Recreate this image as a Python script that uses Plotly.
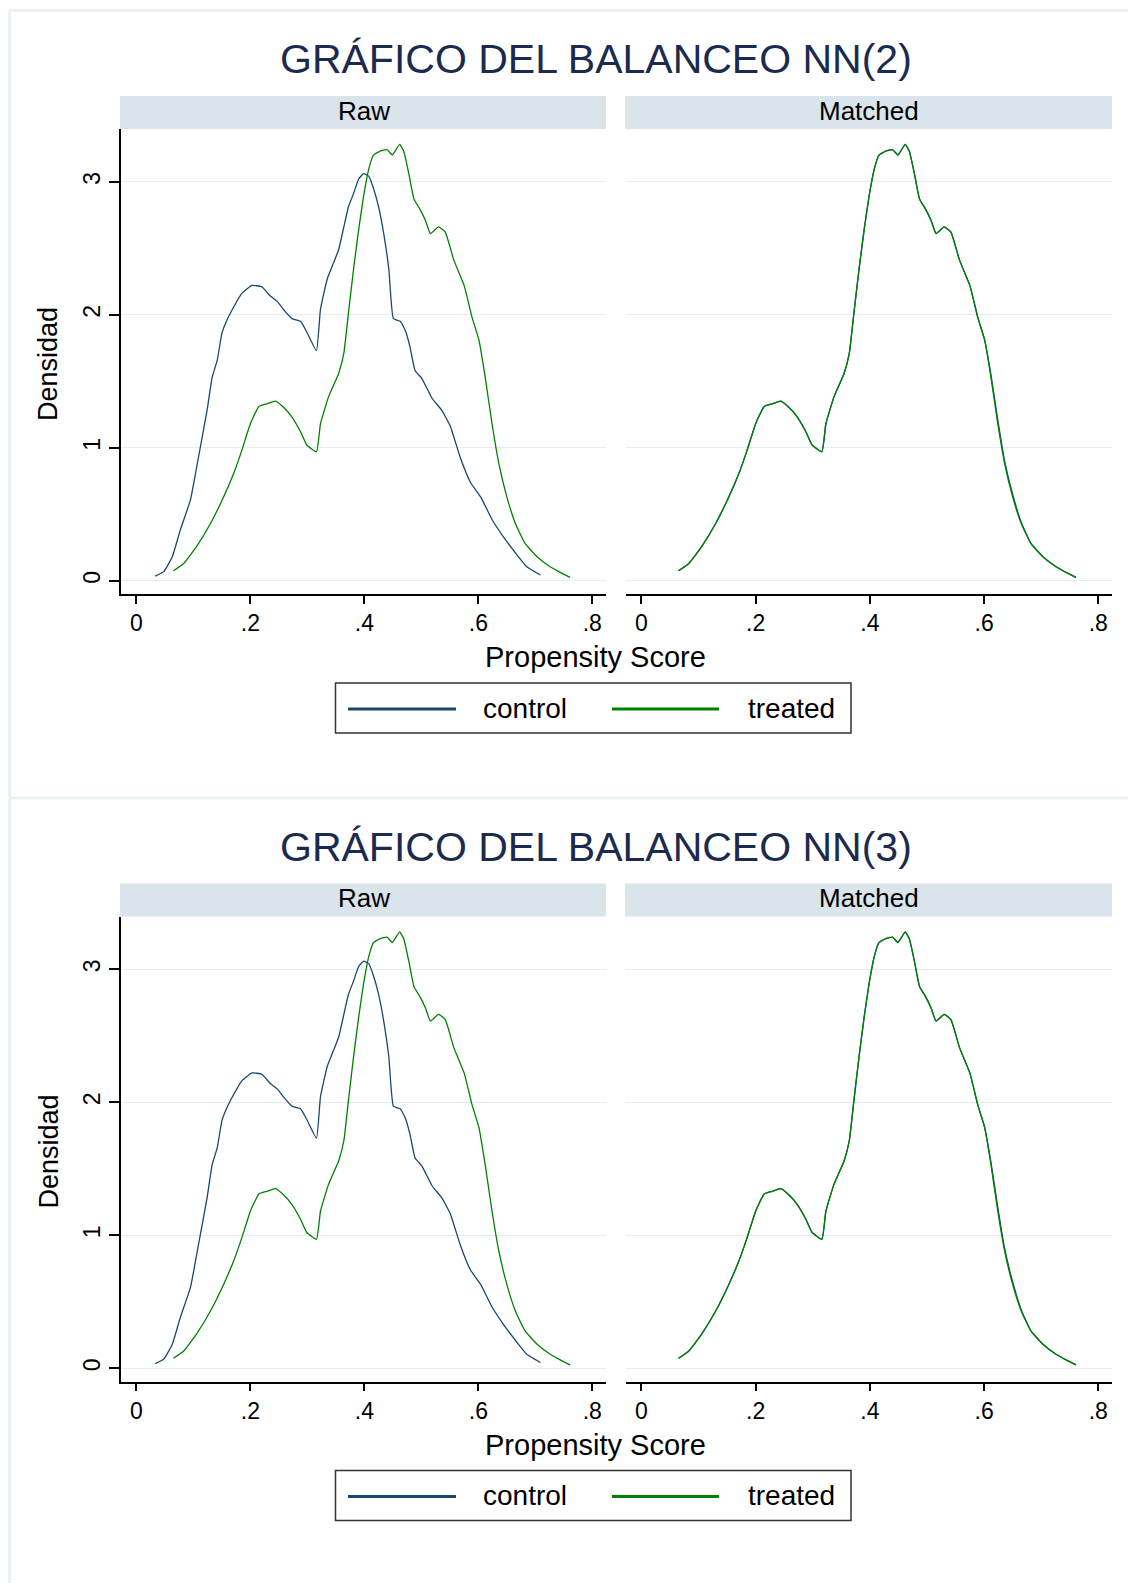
import plotly.graph_objects as go

# page body has an 8px margin, so the figure covers the window from (8, 8)
PAGE_MARGIN = 8
W, H = 1136 - PAGE_MARGIN, 1583 - PAGE_MARGIN

# ---------------- data ----------------
raw_control_x = [0.033, 0.048, 0.063, 0.077, 0.095, 0.109, 0.124, 0.133, 0.142, 0.150, 0.159, 0.171,
                 0.185, 0.203, 0.220, 0.235, 0.247, 0.258, 0.273, 0.288, 0.299, 0.316, 0.323, 0.335,
                 0.346, 0.355, 0.364, 0.372, 0.381, 0.390, 0.399, 0.408, 0.416, 0.425, 0.434, 0.443,
                 0.451, 0.463, 0.472, 0.480, 0.489, 0.501, 0.519, 0.536, 0.551, 0.568, 0.586, 0.604,
                 0.624, 0.644, 0.665, 0.685, 0.709]
raw_control_y = [0.035, 0.068, 0.18, 0.38, 0.61, 0.93, 1.28, 1.53, 1.66, 1.86, 1.96, 2.06,
                 2.16, 2.22, 2.21, 2.14, 2.10, 2.04, 1.97, 1.95, 1.87, 1.73, 2.04, 2.27,
                 2.39, 2.49, 2.66, 2.81, 2.91, 3.02, 3.06, 3.04, 2.95, 2.81, 2.61, 2.34,
                 1.97, 1.95, 1.88, 1.76, 1.58, 1.52, 1.37, 1.28, 1.16, 0.93, 0.74, 0.63,
                 0.46, 0.33, 0.21, 0.105, 0.043]

treated_x = [0.065, 0.083, 0.106, 0.130, 0.153, 0.171, 0.185, 0.200, 0.215, 0.229, 0.244, 0.259,
             0.273, 0.288, 0.299, 0.316, 0.323, 0.337, 0.355, 0.364, 0.372, 0.381, 0.390, 0.399,
             0.408, 0.416, 0.428, 0.440, 0.449, 0.454, 0.462, 0.469, 0.478, 0.487, 0.498, 0.507,
             0.516, 0.530, 0.542, 0.557, 0.575, 0.589, 0.601, 0.612, 0.624, 0.636, 0.650, 0.665,
             0.682, 0.703, 0.726, 0.747, 0.761]
treated_y = [0.075, 0.13, 0.26, 0.43, 0.63, 0.81, 0.98, 1.18, 1.31, 1.33, 1.35, 1.30,
             1.23, 1.12, 1.02, 0.97, 1.18, 1.38, 1.56, 1.71, 2.01, 2.34, 2.64, 2.90,
             3.10, 3.20, 3.23, 3.24, 3.20, 3.23, 3.28, 3.23, 3.06, 2.87, 2.79, 2.71,
             2.61, 2.66, 2.62, 2.41, 2.22, 1.98, 1.81, 1.53, 1.18, 0.88, 0.63, 0.43,
             0.28, 0.18, 0.105, 0.055, 0.025]

matched_control_x = [0.065, 0.083, 0.106, 0.130, 0.153, 0.171, 0.185, 0.200, 0.215, 0.229, 0.244, 0.259,
                     0.273, 0.288, 0.299, 0.316, 0.323, 0.337, 0.355, 0.364, 0.372, 0.381, 0.390, 0.399,
                     0.408, 0.416, 0.428, 0.440, 0.449, 0.454, 0.462, 0.469, 0.478, 0.487, 0.498, 0.507,
                     0.516, 0.530, 0.542, 0.557, 0.575, 0.589, 0.601, 0.612, 0.624, 0.636, 0.650, 0.665,
                     0.682, 0.703, 0.726, 0.747, 0.761]
matched_control_y = [0.075, 0.13, 0.26, 0.43, 0.63, 0.81, 0.98, 1.18, 1.31, 1.33, 1.35, 1.30,
                     1.23, 1.12, 1.02, 0.97, 1.18, 1.38, 1.56, 1.71, 2.01, 2.34, 2.64, 2.90,
                     3.10, 3.20, 3.23, 3.24, 3.20, 3.23, 3.28, 3.23, 3.06, 2.87, 2.79, 2.71,
                     2.61, 2.66, 2.62, 2.41, 2.22, 1.98, 1.81, 1.55, 1.21, 0.90, 0.65, 0.44,
                     0.28, 0.18, 0.105, 0.055, 0.025]

titles = ["GRÁFICO DEL BALANCEO NN(2)", "GRÁFICO DEL BALANCEO NN(3)"]
panel_labels = ["Raw", "Matched"]
x_tick_vals = [0, 0.2, 0.4, 0.6, 0.8]
x_tick_text = ["0", ".2", ".4", ".6", ".8"]
y_tick_vals = [0, 1, 2, 3]
y_tick_text = ["0", "1", "2", "3"]
series_names = ["control", "treated"]

# ---------------- style ----------------
FONT = "Liberation Sans, Arial, sans-serif"
C_CONTROL = "#1a476f"
C_TREATED = "#008000"
C_STRIP = "#d9e4eb"
C_GRID = "#e4edf0"
C_FRAME = "#eaf2f3"
TITLE_COLOR = "#1c2b4d"
OFFSET = 787.5

def fx(px):
    return (px - PAGE_MARGIN) / W

def fy(py):
    return 1 - (py - PAGE_MARGIN) / H

fig = go.Figure()
layout = dict(
    width=W, height=H, margin=dict(l=0, r=0, t=0, b=0),
    paper_bgcolor="white", plot_bgcolor="white", showlegend=False,
    font=dict(family=FONT, color="black"),
)
shapes, annotations = [], []

panel_x = [(121, 606), (626, 1112)]
ax_n = 0
for k in range(2):
    off = OFFSET * k
    # frame lines (left + top) of each exported graph
    shapes.append(dict(type="line", xref="paper", yref="paper", x0=fx(9.5), x1=1,
                       y0=fy(10.5 + off), y1=fy(10.5 + off), line=dict(color=C_FRAME, width=3)))
    shapes.append(dict(type="line", xref="paper", yref="paper", x0=fx(9.5), x1=fx(9.5),
                       y0=fy(10.5 + off), y1=fy(min(1583, 797 + off)), line=dict(color=C_FRAME, width=3)))
    # title
    annotations.append(dict(text=titles[k], x=fx(596), y=fy(59 + off), xref="paper", yref="paper",
                            xanchor="center", yanchor="middle", showarrow=False,
                            font=dict(size=41, color=TITLE_COLOR, family=FONT)))
    for p in range(2):
        ax_n += 1
        xa = "xaxis" if ax_n == 1 else f"xaxis{ax_n}"
        ya = "yaxis" if ax_n == 1 else f"yaxis{ax_n}"
        xr = "x" if ax_n == 1 else f"x{ax_n}"
        yr = "y" if ax_n == 1 else f"y{ax_n}"
        x0, x1 = panel_x[p]
        layout[xa] = dict(domain=[fx(x0), fx(x1)], anchor=yr, range=[-0.027, 0.824],
                          tickvals=x_tick_vals, ticktext=x_tick_text, ticks="outside", ticklen=8,
                          tickwidth=1.5, tickcolor="black", showline=True, linecolor="black",
                          linewidth=1.5, showgrid=False, zeroline=False,
                          tickfont=dict(size=23, color="black", family=FONT))
        ydict = dict(domain=[fy(594 + off), fy(129 + off)], anchor=xr, range=[-0.1, 3.396],
                     tickvals=y_tick_vals, showgrid=True, gridcolor=C_GRID, gridwidth=1,
                     zeroline=False)
        if p == 0:
            ydict.update(ticktext=y_tick_text, ticks="outside", ticklen=10, tickwidth=1.5,
                         tickcolor="black", showline=True, linecolor="black", linewidth=1.5,
                         tickangle=-90, tickfont=dict(size=23, color="black", family=FONT))
        else:
            ydict.update(showticklabels=False, ticks="", showline=False)
        layout[ya] = ydict
        # strip
        shapes.append(dict(type="rect", xref="paper", yref="paper", x0=fx(x0 - 1), x1=fx(x1),
                           y0=fy(129 + off), y1=fy(96 + off), fillcolor=C_STRIP, line=dict(width=0),
                           layer="below"))
        annotations.append(dict(text=panel_labels[p], x=fx((x0 + x1) / 2), y=fy(111 + off),
                                xref="paper", yref="paper", xanchor="center", yanchor="middle",
                                showarrow=False, font=dict(size=26, color="black", family=FONT)))
        if p == 0:
            fig.add_trace(go.Scatter(x=raw_control_x, y=raw_control_y, mode="lines", name="control",
                                     line=dict(color=C_CONTROL, width=1.3, shape="spline", smoothing=0.4),
                                     xaxis=xr, yaxis=yr))
        else:
            fig.add_trace(go.Scatter(x=matched_control_x, y=matched_control_y, mode="lines", name="control",
                                     line=dict(color=C_CONTROL, width=1.3, shape="spline", smoothing=0.4),
                                     xaxis=xr, yaxis=yr))
        fig.add_trace(go.Scatter(x=treated_x, y=treated_y, mode="lines", name="treated",
                                 line=dict(color=C_TREATED, width=1.3, shape="spline", smoothing=0.4),
                                 xaxis=xr, yaxis=yr))
    # axis titles
    annotations.append(dict(text="Densidad", x=fx(48), y=fy(364 + off), xref="paper", yref="paper",
                            xanchor="center", yanchor="middle", textangle=-90, showarrow=False,
                            font=dict(size=27, color="black", family=FONT)))
    annotations.append(dict(text="Propensity Score", x=fx(595), y=fy(657 + off), xref="paper", yref="paper",
                            xanchor="center", yanchor="middle", showarrow=False,
                            font=dict(size=29, color="black", family=FONT)))
    # legend box
    shapes.append(dict(type="rect", xref="paper", yref="paper", x0=fx(335.5), x1=fx(851),
                       y0=fy(733 + off), y1=fy(683 + off), line=dict(color="#333333", width=1.5),
                       fillcolor="white"))
    leg = [(348, 456, 525, C_CONTROL), (612, 719, 791, C_TREATED)]
    for (lx0, lx1, tx, col), nm in zip(leg, series_names):
        shapes.append(dict(type="line", xref="paper", yref="paper", x0=fx(lx0), x1=fx(lx1),
                           y0=fy(709 + off), y1=fy(709 + off), line=dict(color=col, width=3)))
        annotations.append(dict(text=nm, x=fx(tx), y=fy(708 + off), xref="paper", yref="paper",
                                xanchor="center", yanchor="middle", showarrow=False,
                                font=dict(size=28, color="black", family=FONT)))

layout["shapes"] = shapes
layout["annotations"] = annotations
fig.update_layout(**layout)
fig.write_html("out.html")
